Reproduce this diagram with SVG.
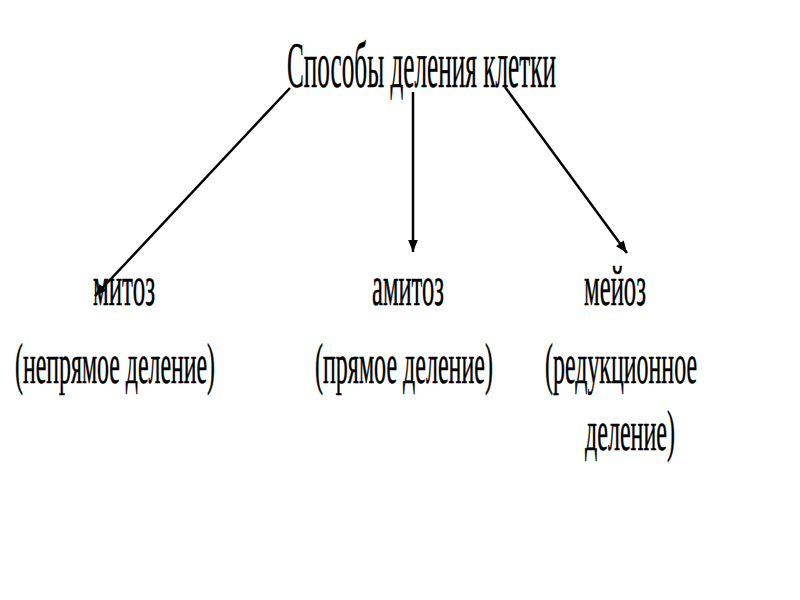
<svg xmlns="http://www.w3.org/2000/svg" width="800" height="600" viewBox="0 0 800 600">
<style>
text{font-family:"Liberation Serif","Times New Roman",serif;fill:#000;stroke:#000;stroke-width:0.5}
.t{font-size:66px}
.n{font-size:56px}
.c{stroke:#000;stroke-width:2.5;fill:none}
</style>
<defs>
<marker id="ah" viewBox="0 0 10 10" refX="10" refY="5" markerWidth="28" markerHeight="12" markerUnits="userSpaceOnUse" orient="auto">
<path d="M0,1 L10,5 L0,9 z" fill="#000"/>
</marker>
</defs>
<rect width="800" height="600" fill="#fff"/>
<g id="title"><text class="t" x="287" y="87" textLength="269" lengthAdjust="spacingAndGlyphs">Способы деления клетки</text></g>
<g id="connectors">
<line class="c" x1="290" y1="88" x2="95" y2="296" marker-end="url(#ah)"/>
<line class="c" x1="413" y1="92" x2="413" y2="252" marker-end="url(#ah)"/>
<line class="c" x1="505" y1="87" x2="627" y2="253" marker-end="url(#ah)"/>
</g>
<g id="mitoz">
<text class="n" x="93" y="305" textLength="62" lengthAdjust="spacingAndGlyphs">митоз</text>
<text class="n" x="15" y="383" textLength="200" lengthAdjust="spacingAndGlyphs">(непрямое деление)</text>
</g>
<g id="amitoz">
<text class="n" x="372" y="305" textLength="72" lengthAdjust="spacingAndGlyphs">амитоз</text>
<text class="n" x="315" y="383" textLength="178" lengthAdjust="spacingAndGlyphs">(прямое деление)</text>
</g>
<g id="meioz">
<text class="n" x="584" y="305" textLength="62" lengthAdjust="spacingAndGlyphs">мейоз</text>
<text class="n" x="545" y="383" textLength="152" lengthAdjust="spacingAndGlyphs">(редукционное</text>
<text class="n" x="585" y="450" textLength="90" lengthAdjust="spacingAndGlyphs">деление)</text>
</g>
</svg>
